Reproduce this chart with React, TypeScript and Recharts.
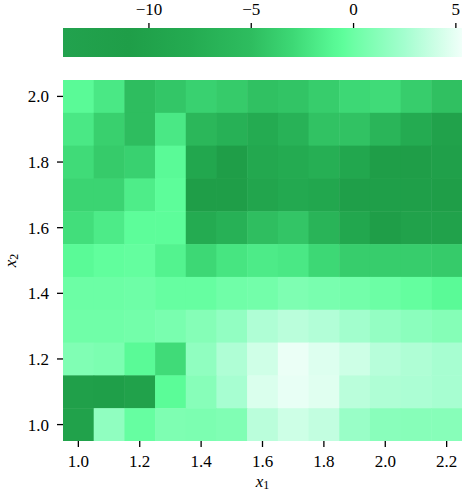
import React from 'react';
import {
  ScatterChart,
  Scatter,
  XAxis,
  YAxis,
  ReferenceArea,
} from 'recharts';

// grid coordinates
const x1Values = [1.0, 1.1, 1.2, 1.3, 1.4, 1.5, 1.6, 1.7, 1.8, 1.9, 2.0, 2.1, 2.2];
const x2Values = [2.0, 1.9, 1.8, 1.7, 1.6, 1.5, 1.4, 1.3, 1.2, 1.1, 1.0];

// cell values, one row per x2 (top to bottom), one entry per x1
const zRows = [
  [-0.8, -2.0, -5.0, -4.3, -3.5, -4.0, -4.7, -4.5, -3.8, -3.0, -2.8, -3.8, -4.8],
  [-2.0, -3.6, -5.0, -2.0, -6.0, -7.0, -8.0, -6.8, -4.6, -4.6, -6.3, -8.0, -10.0],
  [-2.8, -4.0, -3.5, -0.8, -9.0, -11.0, -8.8, -8.0, -7.3, -9.0, -11.0, -11.0, -10.5],
  [-3.3, -3.3, -1.7, -0.6, -11.0, -11.0, -9.5, -8.5, -9.0, -11.5, -11.5, -11.5, -11.0],
  [-2.6, -1.8, -0.6, -0.6, -8.0, -7.0, -4.9, -4.4, -6.5, -9.0, -11.0, -10.0, -10.0],
  [-0.8, -0.4, -0.3, -1.3, -3.0, -2.2, -1.8, -2.0, -3.0, -3.8, -3.8, -3.8, -4.0],
  [0.0, 0.0, 0.1, -0.2, -0.2, 0.2, 0.3, 0.8, 0.6, 0.3, 0.0, -0.3, -0.8],
  [0.2, 0.2, 0.3, 0.6, 1.1, 1.7, 2.9, 3.3, 3.0, 2.4, 1.8, 1.4, 1.1],
  [0.9, 0.7, -0.8, -2.8, 1.6, 2.9, 4.1, 5.1, 4.6, 4.0, 3.2, 2.9, 2.6],
  [-10.5, -11.5, -10.0, -0.7, 1.2, 2.6, 4.5, 5.0, 4.7, 3.3, 2.9, 2.8, 2.6],
  [-10.0, 1.6, -0.2, 0.8, 0.7, 0.9, 3.3, 4.0, 3.6, 2.0, 1.3, 1.2, 1.2],
];

const x1Ticks = [1.0, 1.2, 1.4, 1.6, 1.8, 2.0, 2.2];
const x2Ticks = [1.0, 1.2, 1.4, 1.6, 1.8, 2.0];
const cbarTicks = [-10, -5, 0, 5];

// colormap: dark green -> bright green -> white
const cmapStops: [number, string][] = [
  [-14.2, '#22a24e'],
  [-11, '#1f9e48'],
  [-8, '#24ab51'],
  [-5, '#2ebd5f'],
  [-3, '#3dd875'],
  [-1, '#57f894'],
  [-0.5, '#5efe9b'],
  [0, '#6cfea5'],
  [2.5, '#a4fecf'],
  [5.3, '#f0fff9'],
];
const CBAR_MIN = -14.2;
const CBAR_MAX = 5.3;

const hexToRgb = (h: string) => [1, 3, 5].map((i) => parseInt(h.slice(i, i + 2), 16));

const colorFor = (v: number) => {
  if (v <= cmapStops[0][0]) return cmapStops[0][1];
  for (let i = 1; i < cmapStops.length; i++) {
    const [v1, c1] = cmapStops[i];
    if (v <= v1) {
      const [v0, c0] = cmapStops[i - 1];
      const t = (v - v0) / (v1 - v0);
      const a = hexToRgb(c0);
      const b = hexToRgb(c1);
      const rgb = a.map((ch, k) => Math.round(ch + (b[k] - ch) * t));
      return `rgb(${rgb.join(',')})`;
    }
  }
  return cmapStops[cmapStops.length - 1][1];
};

const cells = x2Values.flatMap((x2, r) =>
  x1Values.map((x1, c) => ({ x1, x2, z: zRows[r][c] }))
);

const FONT = "'Liberation Serif', 'DejaVu Serif', serif";
const W = 463;
const H = 492;
const PLOT_LEFT = 63;
const PLOT_TOP = 80;
const PLOT_RIGHT = 1;
const X_AXIS_H = 51;
const CELL_W = (W - PLOT_LEFT - PLOT_RIGHT) / x1Values.length;
const CELL_H = (H - PLOT_TOP - X_AXIS_H) / x2Values.length;

const tickStyle = { fill: '#000', fontSize: 17, fontFamily: FONT };
const fmt1 = (v: number) => v.toFixed(1);
const fmtCbar = (v: number) => (v < 0 ? `\u2212${Math.abs(v)}` : `${v}`);

const XLabel = ({ viewBox }: any) => (
  <text x={viewBox.x + viewBox.width / 2} y={viewBox.y + 46} textAnchor="middle" fontFamily={FONT} fontSize={17}>
    <tspan fontStyle="italic">x</tspan>
    <tspan fontSize={12} dy={2}>1</tspan>
  </text>
);

const YLabel = ({ viewBox }: any) => {
  const cx = 16;
  const cy = viewBox.y + viewBox.height / 2;
  return (
    <text x={cx} y={cy} textAnchor="middle" fontFamily={FONT} fontSize={17} transform={`rotate(-90, ${cx}, ${cy})`}>
      <tspan fontStyle="italic">x</tspan>
      <tspan fontSize={12} dy={2}>2</tspan>
    </text>
  );
};

const Cell = (p: any) => (
  <rect
    x={p.cx - CELL_W / 2}
    y={p.cy - CELL_H / 2}
    width={CELL_W + 0.5}
    height={CELL_H + 0.5}
    fill={colorFor(p.payload.z)}
  />
);

export default function App() {
  return (
    <div style={{ position: 'absolute', left: 0, top: 0, width: W, height: H, background: '#fff' }}>
      {/* colorbar */}
      <div style={{ position: 'absolute', left: 0, top: 0 }}>
        <ScatterChart width={W} height={57} margin={{ top: 0, right: PLOT_RIGHT, bottom: 0, left: PLOT_LEFT }}>
          <defs>
            <linearGradient id="cbarGrad" x1="0" y1="0" x2="1" y2="0">
              {cmapStops.map(([v, c]) => (
                <stop key={v} offset={(v - CBAR_MIN) / (CBAR_MAX - CBAR_MIN)} stopColor={c} />
              ))}
            </linearGradient>
          </defs>
          <XAxis
            type="number"
            dataKey="v"
            orientation="top"
            domain={[CBAR_MIN, CBAR_MAX]}
            ticks={cbarTicks}
            tickFormatter={fmtCbar}
            height={28}
            axisLine={false}
            tickSize={5}
            tickMargin={8}
            tickLine={{ stroke: '#000', strokeWidth: 1.3 }}
            tick={tickStyle}
            allowDataOverflow
          />
          <YAxis type="number" dataKey="y" domain={[0, 1]} hide allowDataOverflow />
          <ReferenceArea x1={CBAR_MIN} x2={CBAR_MAX} y1={0} y2={1} fill="url(#cbarGrad)" fillOpacity={1} stroke="none" />
        </ScatterChart>
      </div>

      {/* heatmap */}
      <div style={{ position: 'absolute', left: 0, top: 0 }}>
        <ScatterChart width={W} height={H} margin={{ top: PLOT_TOP, right: PLOT_RIGHT, bottom: 0, left: 0 }}>
          <XAxis
            type="number"
            dataKey="x1"
            domain={[0.95, 2.25]}
            ticks={x1Ticks}
            tickFormatter={fmt1}
            height={X_AXIS_H}
            axisLine={false}
            tickSize={6}
            tickMargin={8}
            tickLine={{ stroke: '#000', strokeWidth: 1.3 }}
            tick={tickStyle}
            allowDataOverflow
            label={<XLabel />}
          />
          <YAxis
            type="number"
            dataKey="x2"
            domain={[0.95, 2.05]}
            ticks={x2Ticks}
            tickFormatter={fmt1}
            width={PLOT_LEFT}
            axisLine={false}
            tickSize={6}
            tickMargin={8}
            tickLine={{ stroke: '#000', strokeWidth: 1.3 }}
            tick={tickStyle}
            allowDataOverflow
            label={<YLabel />}
          />
          <Scatter data={cells} shape={Cell} isAnimationActive={false} />
        </ScatterChart>
      </div>
    </div>
  );
}
